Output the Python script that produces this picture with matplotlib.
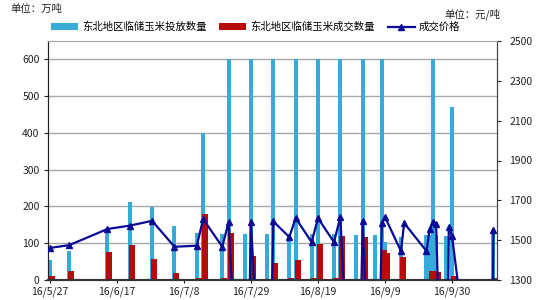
import matplotlib
matplotlib.use('Agg')
import matplotlib.pyplot as plt
import matplotlib.dates as mdates
import pandas as pd
from matplotlib.patches import Patch
from matplotlib.lines import Line2D

plt.rcParams['font.family'] = ['Noto Sans CJK SC', 'DejaVu Sans']

dates = ['2016-05-27', '2016-06-02', '2016-06-14', '2016-06-21', '2016-06-28', '2016-07-05',
         '2016-07-12', '2016-07-14', '2016-07-20', '2016-07-22', '2016-07-27', '2016-07-29',
         '2016-08-03', '2016-08-05', '2016-08-10', '2016-08-12', '2016-08-17', '2016-08-19',
         '2016-08-24', '2016-08-26', '2016-08-31', '2016-09-02', '2016-09-06', '2016-09-08',
         '2016-09-09', '2016-09-14', '2016-09-15', '2016-09-22', '2016-09-23', '2016-09-24',
         '2016-09-25', '2016-09-28', '2016-09-29', '2016-09-30', '2016-10-12', '2016-10-13']
supply = [54, 80, 140, 213, 199, 147,
          129, 400, 125, 600, 125, 600,
          125, 600, 125, 600, 125, 600,
          125, 600, 122, 600, 122, 600,
          103, 117, 0, 122, 122, 600,
          122, 120, 0, 470, 0, 136]
deal = [11, 24, 76, 95, 57, 20,
        6, 179, 5, 129, 4, 65,
        0, 46, 5, 54, 5, 98,
        5, 120, 0, 117, 0, 82,
        73, 62, 0, 0, 24, 24,
        22, 0, 0, 10, 0, 5]
price = [1461, 1475, 1556, 1573, 1597, 1467,
         1472, 1606, 1467, 1592, 0, 1592,
         0, 1594, 1516, 1611, 1490, 1611,
         1490, 1616, 0, 1596, 0, 1586,
         1616, 1445, 1586, 1445, 1556, 1592,
         1581, 0, 1566, 1521, 0, 1551]
tick_dates = ['2016-05-27', '2016-06-17', '2016-07-08', '2016-07-29',
              '2016-08-19', '2016-09-09', '2016-09-30']
left_ticks = [0, 100, 200, 300, 400, 500, 600]
right_ticks = [1300, 1500, 1700, 1900, 2100, 2300, 2500]

BLUE = '#36AAD8'
RED = '#B40A0A'
NAVY = '#0A0A96'

fig = plt.figure(figsize=(5.5, 3), dpi=100)
ax = fig.add_axes([48/550, 20/300, 449/550, 239/300])

x = mdates.date2num(pd.to_datetime(dates))
ax.bar(x, supply, width=1.25, color=BLUE, zorder=2)
ax.bar(x + 0.6, deal, width=1.9, color=RED, zorder=3)

x0 = mdates.date2num(pd.Timestamp('2016-05-27'))
ax.set_xlim(x0 - 0.63, x0 + 140.1)
ax.set_ylim(0, 650)
ax.set_yticks(left_ticks)
ax.yaxis.grid(True, color='#A8A8A8', lw=1)
ax.set_axisbelow(True)

tx = mdates.date2num(pd.to_datetime(tick_dates))
ax.set_xticks(tx)
ax.set_xticklabels([f"{d.year % 100}/{d.month}/{d.day}" for d in pd.to_datetime(tick_dates)])
ax.tick_params(axis='x', length=2, pad=3, labelsize=7.5, colors='#222222')
ax.tick_params(axis='y', length=3, pad=3, labelsize=7.5, colors='#222222')

ax2 = ax.twinx()
ax2.plot(x, price, color=NAVY, lw=1.6, marker='^', ms=5, zorder=4)
ax2.set_ylim(1300, 2500)
ax2.set_yticks(right_ticks)
ax2.tick_params(axis='y', length=3, pad=6, labelsize=7.5, colors='#222222')

for a in (ax, ax2):
    a.spines['top'].set_color('#A8A8A8')
    a.spines['left'].set_color('#222222')
    a.spines['right'].set_color('#444444')
    a.spines['bottom'].set_color('#333333')
    a.spines['bottom'].set_linewidth(1.5)

handles = [Patch(facecolor=BLUE, edgecolor='none'),
           Patch(facecolor=RED, edgecolor='none'),
           Line2D([0], [0], color=NAVY, lw=1.6, marker='^', ms=4)]
labels = ['东北地区临储玉米投放数量', '东北地区临储玉米成交数量', '成交价格']
fig.legend(handles, labels, loc='center', bbox_to_anchor=(0.465, 1 - 27/300), ncol=3,
           frameon=False, fontsize=7.5, handlelength=2.6, handleheight=0.55,
           columnspacing=1.2, handletextpad=0.4)

fig.text(10/550, 1 - 9/300, '单位：万吨', fontsize=7.5, va='center', ha='left', color='#222222')
fig.text(500/550, 1 - 14/300, '单位：元/吨', fontsize=7.5, va='center', ha='right', color='#222222')

fig.savefig('out.png', dpi=100)
